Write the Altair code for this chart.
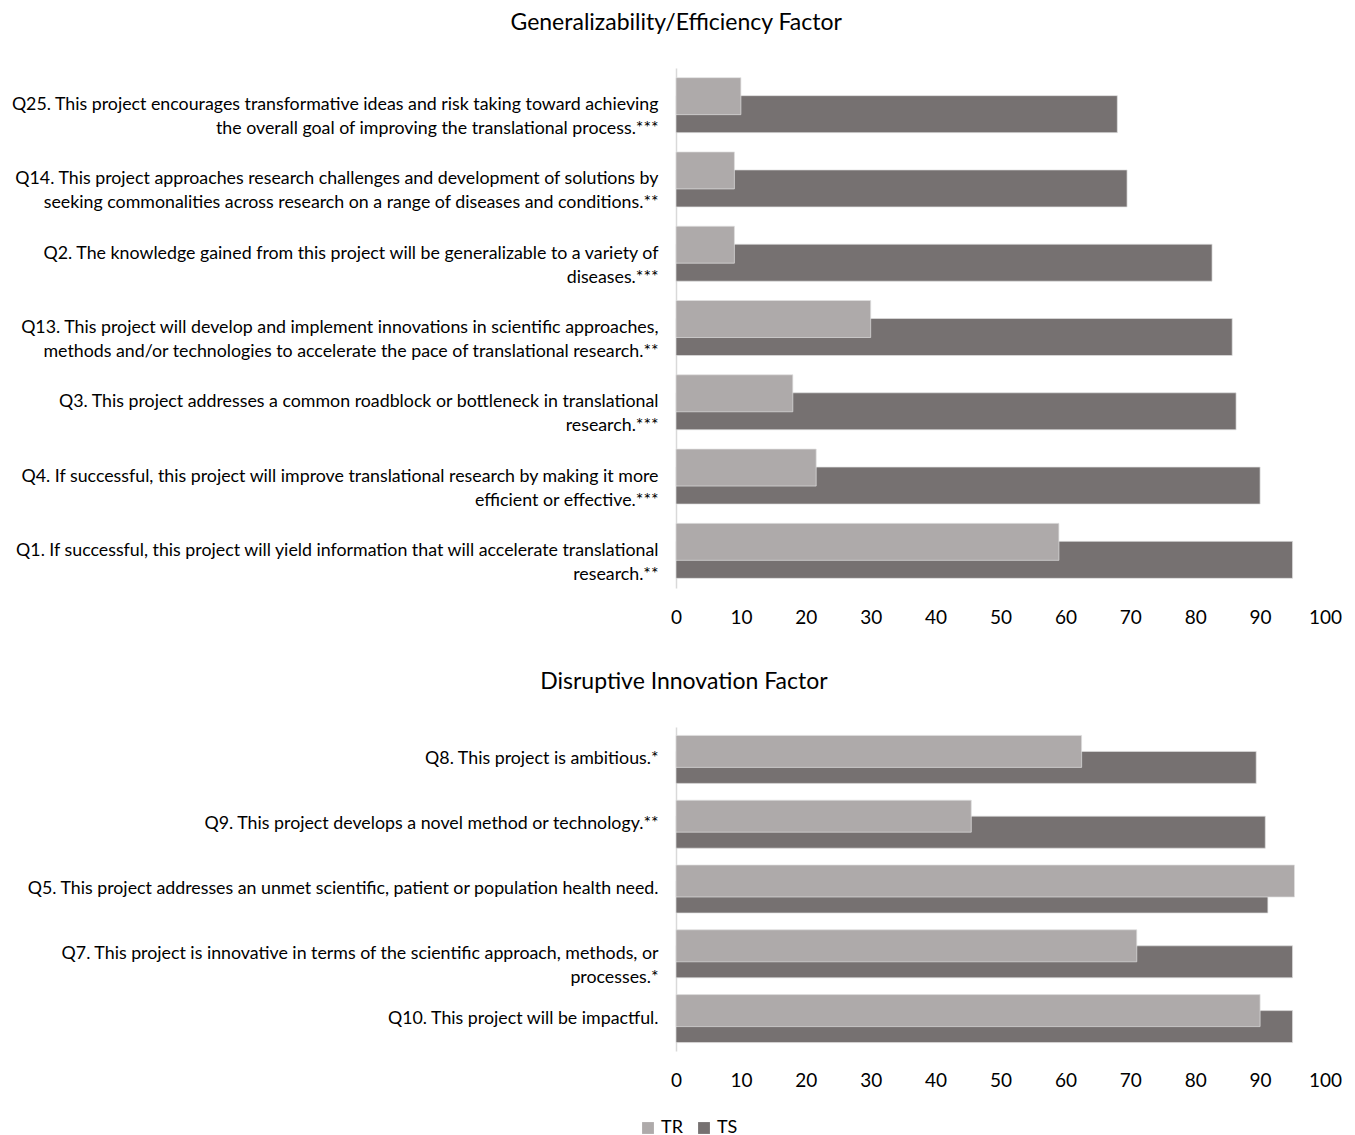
import altair as alt
import pandas as pd

series = ["TR", "TS"]
colors = ["#AEAAAA", "#767171"]

gen_questions = [
    "Q25. This project encourages transformative ideas and risk taking toward achieving|the overall goal of improving the translational process.***",
    "Q14. This project approaches research challenges and development of solutions by|seeking commonalities across research on a range of diseases and conditions.**",
    "Q2. The knowledge gained from this project will be generalizable to a variety of|diseases.***",
    "Q13. This project will develop and implement innovations in scientific approaches,|methods and/or technologies to accelerate the pace of translational research.**",
    "Q3. This project addresses a common roadblock or bottleneck in translational|research.***",
    "Q4. If successful, this project will improve translational research by making it more|efficient or effective.***",
    "Q1. If successful, this project will yield information that will accelerate translational|research.**",
]
gen_tr = [10, 9, 9, 30, 18, 21.6, 59]
gen_ts = [68, 69.5, 82.6, 85.7, 86.3, 90, 95]

dis_questions = [
    "Q8. This project is ambitious.*",
    "Q9. This project develops a novel method or technology.**",
    "Q5. This project addresses an unmet scientific, patient or population health need.",
    "Q7. This project is innovative in terms of the scientific approach, methods, or|processes.*",
    "Q10. This project will be impactful.",
]
dis_tr = [62.5, 45.5, 95.3, 71, 90]
dis_ts = [89.4, 90.8, 91.2, 95, 95]

FONT = "Lato"

legend = alt.Legend(
    title=None,
    orient="none",
    legendX=-37,
    legendY=1051,
    direction="horizontal",
    symbolType="square",
    symbolSize=140,
    symbolStrokeWidth=0,
    labelFontSize=18,
    labelFont=FONT,
    labelColor="#000000",
    columnPadding=12,
    labelOffset=4,
)


def panel(questions, tr, ts, title, width, height, bar_h, off):
    rows = []
    for q, a, b in zip(questions, tr, ts):
        rows.append({"question": q, "series": "TR", "value": a})
        rows.append({"question": q, "series": "TS", "value": b})
    df = pd.DataFrame(rows)
    base = alt.Chart(df)
    y = alt.Y(
        "question:N",
        sort=questions,
        scale=alt.Scale(paddingInner=0, paddingOuter=0),
        axis=alt.Axis(
            title=None,
            labelExpr="split(datum.label, '|')",
            labelFontSize=17.8,
            labelLineHeight=24,
            labelFont=FONT,
            labelColor="#000000",
            labelLimit=900,
            labelPadding=18,
            ticks=False,
            domainColor="#D9D9D9",
            domainWidth=1.5,
        ),
    )
    x = alt.X(
        "value:Q",
        scale=alt.Scale(domain=[0, 100]),
        axis=alt.Axis(
            title=None,
            values=list(range(0, 101, 10)),
            labelFontSize=19,
            labelFont=FONT,
            labelColor="#000000",
            labelPadding=20,
            labelFlush=False,
            ticks=False,
            domain=False,
            grid=False,
        ),
    )
    color = alt.Color(
        "series:N",
        scale=alt.Scale(domain=series, range=colors),
        legend=legend,
    )
    ts_layer = base.transform_filter(alt.datum.series == "TS").mark_bar(
        height=bar_h, yOffset=off, stroke="#E0E0E0", strokeWidth=0.7
    ).encode(x=x, y=y, color=color)
    tr_layer = base.transform_filter(alt.datum.series == "TR").mark_bar(
        height=bar_h, yOffset=-off, stroke="#E0E0E0", strokeWidth=0.7
    ).encode(x=x, y=y, color=color)
    return alt.layer(ts_layer, tr_layer).properties(
        width=width,
        height=height,
        title=alt.TitleParams(
            title, fontSize=23, font=FONT, fontWeight="normal", color="#000000",
            anchor="middle", frame="bounds", offset=33,
        ),
    )


top = panel(gen_questions, gen_tr, gen_ts, "Generalizability/Efficiency Factor",
            649, 520, 37, 9)
bottom = panel(dis_questions, dis_tr, dis_ts, "Disruptive Innovation Factor",
               649, 324, 32, 8)

chart = alt.vconcat(top, bottom, spacing=44).configure(
    font=FONT, padding={"left": 2, "top": 4, "right": 5, "bottom": 5}
).configure_view(stroke=None)

chart.save("out.html", embed_options={"renderer": "svg", "actions": False})
